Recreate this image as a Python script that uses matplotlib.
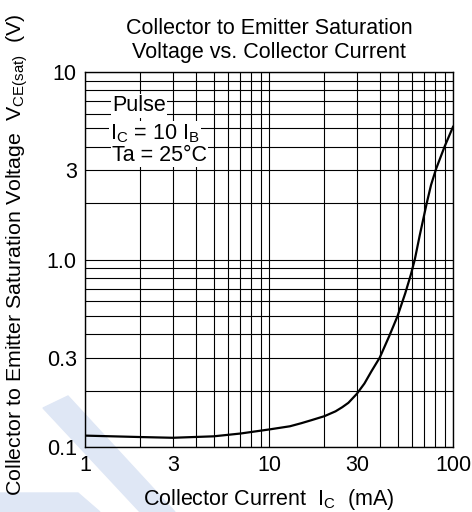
import matplotlib.pyplot as plt
import numpy as np
from matplotlib.patches import Polygon

plt.rcParams['font.family'] = ['Liberation Sans', 'DejaVu Sans']
plt.rcParams['mathtext.fontset'] = 'custom'
plt.rcParams['mathtext.rm'] = 'Liberation Sans'
plt.rcParams['mathtext.it'] = 'Liberation Sans'
plt.rcParams['mathtext.default'] = 'regular'

# curve
ic = [1, 2, 3, 5, 7, 10, 13, 15, 17, 20, 23, 25, 27, 30, 33, 36, 40, 45, 50,
      55, 59, 62, 66, 69, 72, 76, 81, 90, 100]
vce = [0.115, 0.113, 0.112, 0.114, 0.118, 0.124, 0.129, 0.134, 0.139, 0.146, 0.155,
       0.163, 0.172, 0.192, 0.218, 0.253, 0.30, 0.39, 0.50,
       0.66, 0.83, 1.0, 1.35, 1.65, 2.0, 2.5, 3.05, 4.0, 5.1]

xticks = [1, 3, 10, 30, 100]
xlabels = ['1', '3', '10', '30', '100']
yticks = [0.1, 0.3, 1, 3, 10]
ylabels = ['0.1', '0.3', '1.0', '3', '10']

fs = 15.5

fig = plt.figure(figsize=(4.72, 5.12), dpi=100)

# faint watermark shapes in the lower left
wm = '#dfe7f5'
fig.patches.append(Polygon([[43/472, 1-408/512], [68/472, 1-396/512], [175/472, 0], [140/472, 0]],
                           closed=True, transform=fig.transFigure, color=wm, zorder=-5))
fig.patches.append(Polygon([[0, 1-493/512], [78/472, 1-493/512], [100/472, 0], [0, 0]],
                           closed=True, transform=fig.transFigure, color=wm, zorder=-5))

ax = fig.add_axes([85/472, 1-447/512, 368/472, 375/512])
ax.patch.set_alpha(0)
ax.plot(ic, vce, color='black', lw=1.6, zorder=3)

ax.set_xscale('log')
ax.set_yscale('log')
ax.set_xlim(1, 100)
ax.set_ylim(0.1, 10)
ax.set_xticks(xticks)
ax.set_xticklabels(xlabels)
ax.set_yticks(yticks)
ax.set_yticklabels(ylabels)
ax.minorticks_on()
ax.tick_params(which='both', length=0, labelsize=fs)
ax.tick_params(axis='x', pad=6)
ax.tick_params(axis='y', pad=6)
ax.grid(True, which='both', color='black', lw=0.8)
for s in ax.spines.values():
    s.set_linewidth(1)

box = dict(facecolor='white', edgecolor='none', pad=1)
ax.text(1.4, 6.6, 'Pulse', fontsize=fs, va='center', bbox=box)
ax.text(1.37, 4.7, r'$I_C$ = 10 $I_B$', fontsize=fs, va='center', bbox=box)
ax.text(1.4, 3.6, 'Ta = 25°C', fontsize=fs, va='center', bbox=box)

ax.set_title('Collector to Emitter Saturation\nVoltage vs. Collector Current', fontsize=fs, pad=10)
ax.set_xlabel(r'Collector Current  $I_C$  (mA)', fontsize=fs, labelpad=8)
fig.text(17/472, 1-255/512, r'Collector to Emitter Saturation Voltage  $V_{CE(sat)}$  (V)',
         fontsize=15.4, rotation=90, ha='center', va='center')

fig.savefig('out.png', dpi=100)
